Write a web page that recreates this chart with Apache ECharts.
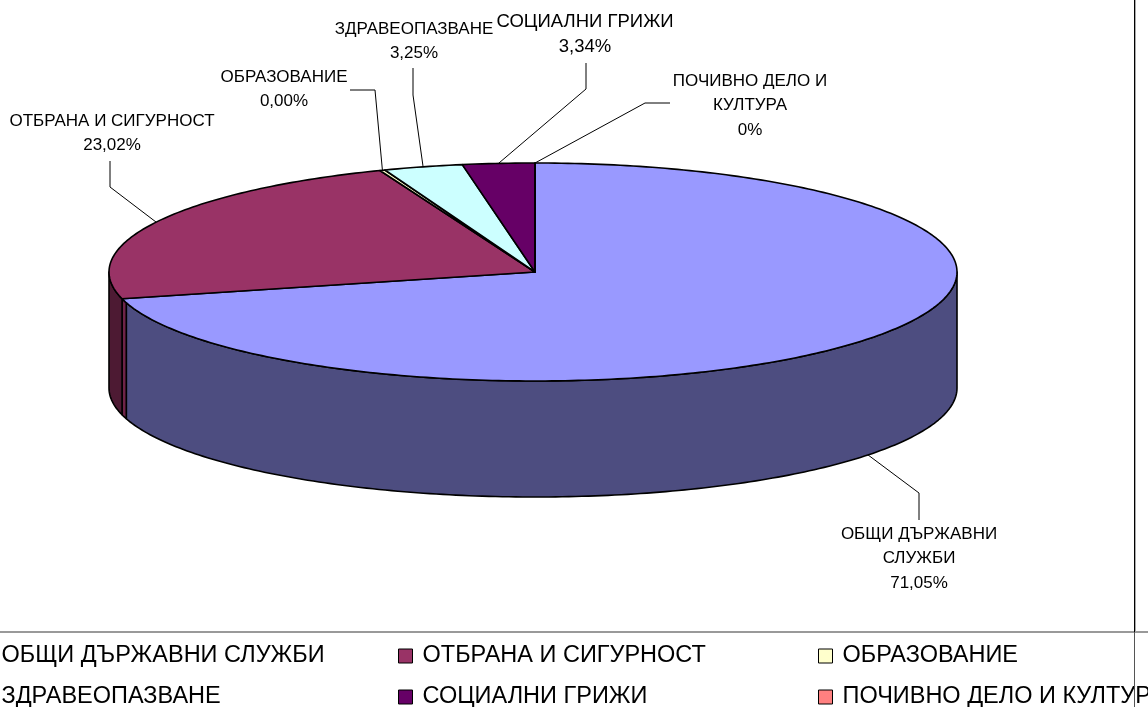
<!DOCTYPE html>
<html style="height: 100%">
<head>
    <meta charset="utf-8">
    <title>3D pie</title>
    <script src="https://cdn.jsdelivr.net/npm/echarts@6/dist/echarts.min.js"></script>
</head>
<body style="height: 100%; margin: 0; background: #fff">
<div id="container" style="width: 1148px; height: 707px"></div>

<script type="text/javascript">

    // data
    const categories = ['ОБЩИ ДЪРЖАВНИ СЛУЖБИ', 'ОТБРАНА И СИГУРНОСТ', 'ОБРАЗОВАНИЕ', 'ЗДРАВЕОПАЗВАНЕ', 'СОЦИАЛНИ ГРИЖИ', 'ПОЧИВНО ДЕЛО И КУЛТУРА']
    // slice sizes as they are drawn in the pie
    const sliceValues = [71.05, 23.02, 0.2, 3.0, 2.73, 0]
    // what the data labels print
    const percentLabels = ['71,05%', '23,02%', '0,00%', '3,25%', '3,34%', '0%']
    const labelLines = [['ОБЩИ ДЪРЖАВНИ', 'СЛУЖБИ'], ['ОТБРАНА И СИГУРНОСТ'], ['ОБРАЗОВАНИЕ'], ['ЗДРАВЕОПАЗВАНЕ'], ['СОЦИАЛНИ ГРИЖИ'], ['ПОЧИВНО ДЕЛО И', 'КУЛТУРА']]

    const topColors = ['#9999FF', '#993366', '#FFFFCC', '#CCFFFF', '#660066', '#FF8080']
    const sideColors = ['#4D4D80', '#4D1A33', '#80806A', '#6A8080', '#330033', '#804040']

    // layout of the tilted disc, the left half is a touch wider than the right
    const cx = 535, cy = 272, rxLeft = 426, rxRight = 422, ry = 109, depth = 116
    // label centre x, first line y, font size, and the leader's elbow + end beside the label
    const labelPos = [[919, 534, 17], [112, 121, 17], [284, 77, 17], [414, 29, 17], [585, 22, 18.5], [750, 81, 17]]
    const leaders = [[[919, 493], [919, 520]], [[110, 187], [110, 161]], [[375, 90], [350, 90]], [[413, 95], [413, 68]], [[586, 89], [586, 63]], [[645, 103], [670, 103]]]

    const total = sliceValues.reduce((a, b) => a + b, 0)
    const starts = []
    sliceValues.reduce((sum, v, i) => { starts[i] = sum; return sum + v }, 0)

    function pt(percent, dy) {
        const a = percent / total * 2 * Math.PI
        const s = Math.sin(a)
        return [cx + (s < 0 ? rxLeft : rxRight) * s, cy - ry * Math.cos(a) + (dy || 0)]
    }
    function arc(from, to, dy) {
        const pts = []
        const steps = Math.max(2, Math.ceil(Math.abs(to - from) * 4))
        for (let k = 0; k <= steps; k++) pts.push(pt(from + (to - from) * k / steps, dy))
        return pts
    }
    const stroke = {stroke: '#000', lineWidth: 1.6, lineJoin: 'round'}

    function sidePiece(from, to, color) {
        const pts = arc(from, to, 0).concat(arc(to, from, depth))
        return {type: 'polygon', shape: {points: pts}, style: Object.assign({fill: color}, stroke)}
    }

    function renderSlice(i, api) {
        const from = starts[i], to = from + api.value(0)
        const children = []
        // only the part of the rim facing us shows: 25% .. 75% of the turn
        const lo = Math.max(from, total * 0.25), hi = Math.min(to, total * 0.75)
        if (hi > lo) {
            if (i === 0) {
                const cut = hi - 0.6
                children.push(sidePiece(lo, cut, sideColors[i]))
                children.push(sidePiece(cut, hi, '#6E2448'))
            } else {
                children.push(sidePiece(lo, hi, sideColors[i]))
            }
        }
        const top = [[cx, cy]].concat(arc(from, to, 0))
        children.push({type: 'polygon', z2: 5, shape: {points: top}, style: Object.assign({fill: topColors[i]}, stroke)})
        return {type: 'group', children: children}
    }

    function renderLabel(params, api) {
        const i = params.dataIndex
        const mid = starts[i] + api.value(0) / 2
        // the blue slice's leader leaves from the lower rim
        const anchor = pt(mid, (mid > total * 0.25 && mid < total * 0.75) ? depth : 0)
        const line = [anchor].concat(leaders[i])
        const children = [{type: 'polyline', shape: {points: line}, style: {stroke: '#000', lineWidth: 1, fill: null}}]
        labelLines[i].concat(percentLabels[i]).forEach(function (txt, k) {
            children.push({type: 'text', style: {
                text: txt, x: labelPos[i][0], y: labelPos[i][1] + k * 24.5,
                textAlign: 'center', textVerticalAlign: 'middle',
                font: labelPos[i][2] + 'px "Liberation Sans", Arial, sans-serif', fill: '#000'
            }})
        })
        return {type: 'group', children: children}
    }

    let dom = document.getElementById('container')
    let chart = echarts.init(dom)

    // one custom series per slice so the legend can pick them up by name
    const series = categories.map(function (name, i) {
        return {
            type: 'custom', name: name, coordinateSystem: 'none', silent: true, animation: false, z: 2 + (i === 0 ? 0 : 1),
            itemStyle: {color: topColors[i], borderColor: '#000', borderWidth: 1},
            renderItem: function (params, api) { return renderSlice(i, api) },
            data: [[sliceValues[i]]]
        }
    })
    series.push({
        type: 'custom', name: 'labels', coordinateSystem: 'none', silent: true, animation: false, z: 6,
        renderItem: renderLabel,
        data: sliceValues.map(v => [v])
    })

    const legendBase = {
        orient: 'vertical', top: 644, height: 90, itemWidth: 14, itemHeight: 14, itemGap: 17, itemStyle: {borderColor: '#000', borderWidth: 1},
        icon: 'rect', textStyle: {fontFamily: '"Liberation Sans", Arial, sans-serif', fontSize: 23.5, lineHeight: 24, color: '#000', padding: [0, 0, 0, 5]},
        selectedMode: false, padding: 0
    }
    chart.setOption({
        animation: false,
        backgroundColor: '#fff',
        legend: [
            Object.assign({}, legendBase, {left: -23, data: [categories[0], categories[3]]}),
            Object.assign({}, legendBase, {left: 398, data: [categories[1], categories[4]]}),
            Object.assign({}, legendBase, {left: 818, data: [categories[2], categories[5]]})
        ],
        graphic: [
            {type: 'line', shape: {x1: 0, y1: 632, x2: 1148, y2: 632}, style: {stroke: '#777', lineWidth: 1.5}, z: 10},
            {type: 'line', shape: {x1: 1134.5, y1: 0, x2: 1134.5, y2: 632}, style: {stroke: '#000', lineWidth: 1}, z: 10},
            {type: 'line', shape: {x1: 1135.5, y1: 0, x2: 1135.5, y2: 632}, style: {stroke: '#aaa', lineWidth: 1}, z: 10},
            {type: 'line', shape: {x1: 1134.5, y1: 632, x2: 1134.5, y2: 707}, style: {stroke: '#555', lineWidth: 1}, z: 10}
        ],
        series: series
    })

</script>
</body>
</html>
